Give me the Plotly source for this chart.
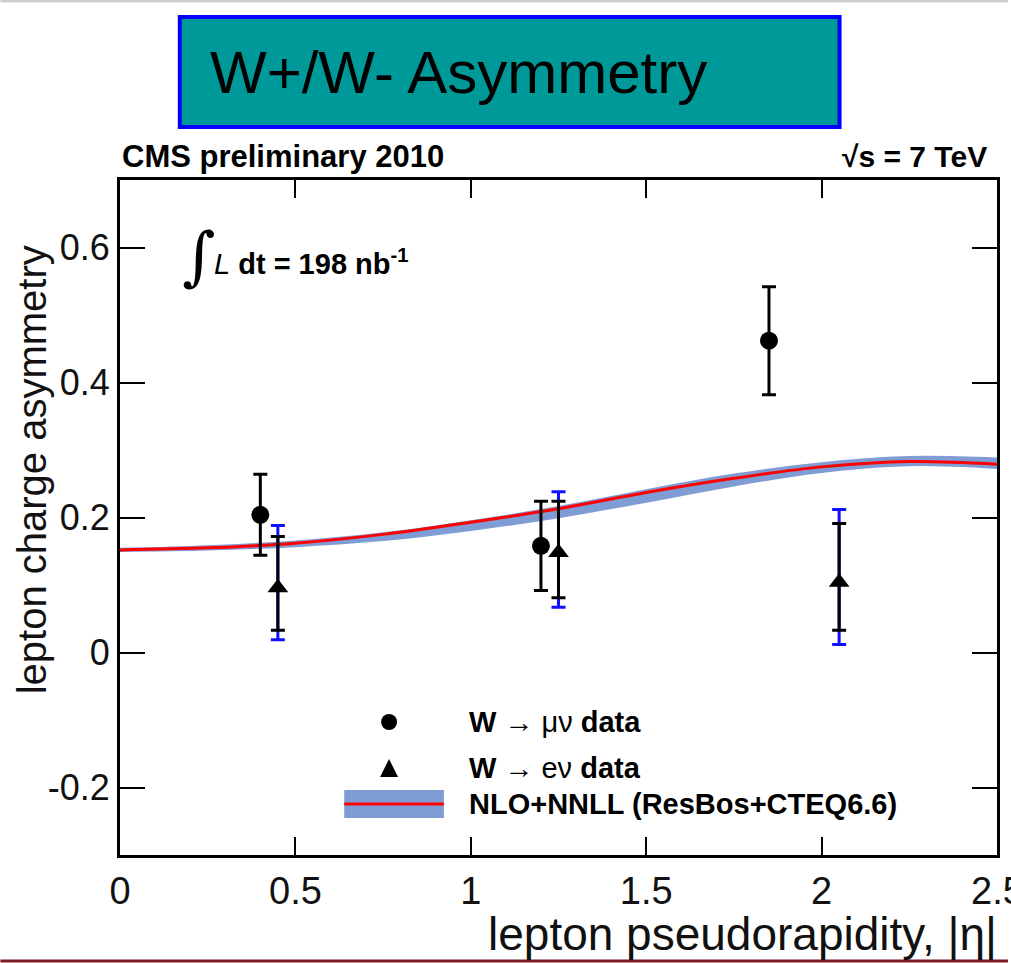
import plotly.graph_objects as go

# ---------------- data ----------------
mu_eta = [0.40, 1.20, 1.85]
mu_asym = [0.204, 0.158, 0.462]
mu_err_up = [0.060, 0.066, 0.080]
mu_err_dn = [0.060, 0.066, 0.080]

e_eta = [0.45, 1.25, 2.05]
e_asym = [0.096, 0.148, 0.104]
e_stat_up = [0.076, 0.076, 0.087]
e_stat_dn = [0.063, 0.067, 0.071]
e_tot_up = [0.092, 0.090, 0.108]
e_tot_dn = [0.077, 0.081, 0.092]

th_eta = [0.0, 0.25, 0.5, 0.75, 1.0, 1.25, 1.5, 1.75, 2.0, 2.25, 2.5]
th_asym = [0.152, 0.155, 0.162, 0.175, 0.193, 0.213, 0.237, 0.258, 0.275, 0.283, 0.279]
th_lo = [0.149, 0.151, 0.156, 0.165, 0.180, 0.199, 0.222, 0.246, 0.266, 0.276, 0.272]
th_hi = [0.155, 0.159, 0.166, 0.178, 0.196, 0.217, 0.242, 0.265, 0.282, 0.291, 0.289]

x_ticks = [0, 0.5, 1, 1.5, 2, 2.5]
x_tick_text = ["0", "0.5", "1", "1.5", "2", "2.5"]
y_ticks = [-0.2, 0, 0.2, 0.4, 0.6]
y_tick_text = ["-0.2", "0", "0.2", "0.4", "0.6"]

# ---------------- layout geometry ----------------
W, H = 1011, 963
ML, MR, MT, MB = 120, 11, 180, 108
PW, PH = W - ML - MR, H - MT - MB


def px(x):
    return (x - ML) / PW


def py(y):
    return (H - MB - y) / PH


FONT = "Liberation Sans, Arial, sans-serif"
BAND = "#7f9cd4"

fig = go.Figure()

# theory band
fig.add_trace(go.Scatter(x=th_eta, y=th_lo, mode="lines", line=dict(width=0, shape="spline"),
                         hoverinfo="skip", showlegend=False))
fig.add_trace(go.Scatter(x=th_eta, y=th_hi, mode="lines", line=dict(width=0, shape="spline"),
                         fill="tonexty", fillcolor=BAND, hoverinfo="skip", showlegend=False))
fig.add_trace(go.Scatter(x=th_eta, y=th_asym, mode="lines",
                         line=dict(color="#ff0000", width=3, shape="spline"), showlegend=False))

# electron total errors (blue)
fig.add_trace(go.Scatter(x=e_eta, y=e_asym, mode="markers", marker=dict(size=1, color="rgba(0,0,0,0)"),
                         error_y=dict(type="data", symmetric=False, array=e_tot_up, arrayminus=e_tot_dn,
                                      color="#1010ff", thickness=3, width=7),
                         showlegend=False))
# electron stat errors (black)
fig.add_trace(go.Scatter(x=e_eta, y=e_asym, mode="markers",
                         marker=dict(symbol="triangle-up", size=18, color="black"),
                         error_y=dict(type="data", symmetric=False, array=e_stat_up, arrayminus=e_stat_dn,
                                      color="black", thickness=3, width=7),
                         showlegend=False))
# muon
fig.add_trace(go.Scatter(x=mu_eta, y=mu_asym, mode="markers",
                         marker=dict(symbol="circle", size=18, color="black"),
                         error_y=dict(type="data", symmetric=False, array=mu_err_up, arrayminus=mu_err_dn,
                                      color="black", thickness=3, width=7),
                         showlegend=False))

shapes = []
annotations = []

# title box
shapes.append(dict(type="rect", xref="paper", yref="paper",
                   x0=px(180), x1=px(842), y0=py(127), y1=py(17),
                   fillcolor="#009999", line=dict(color="#0000ff", width=4), layer="above"))
annotations.append(dict(xref="paper", yref="paper", x=px(208), y=py(72), xanchor="left", yanchor="middle",
                        text="W+/W- Asymmetry", showarrow=False,
                        font=dict(family=FONT, size=60, color="black")))

# slide decoration lines
shapes.append(dict(type="line", xref="paper", yref="paper", x0=px(0), x1=px(W), y0=py(1), y1=py(1),
                   line=dict(color="#cfcfcf", width=3)))
shapes.append(dict(type="line", xref="paper", yref="paper", x0=px(0), x1=px(W), y0=py(961), y1=py(961),
                   line=dict(color="#7a1a24", width=3)))

# CMS text
annotations.append(dict(xref="paper", yref="paper", x=px(120), y=py(157), xanchor="left", yanchor="middle",
                        text="<b>CMS preliminary 2010</b>", showarrow=False,
                        font=dict(family=FONT, size=31, color="black")))
annotations.append(dict(xref="paper", yref="paper", x=px(992), y=py(157), xanchor="right", yanchor="middle",
                        text="<b>\u221As = 7 TeV</b>", showarrow=False,
                        font=dict(family=FONT, size=30, color="black")))

# integrated luminosity
annotations.append(dict(xref="paper", yref="paper", x=px(180), y=py(256), xanchor="left", yanchor="middle",
                        text="\u222b", showarrow=False,
                        font=dict(family="DejaVu Serif, serif", size=64, color="black")))
annotations.append(dict(xref="paper", yref="paper", x=px(212), y=py(262), xanchor="left", yanchor="middle",
                        text="<i>L</i> <b>dt = 198 nb<sup>-1</sup></b>", showarrow=False,
                        font=dict(family=FONT, size=29, color="black")))

# legend (manual)
shapes.append(dict(type="circle", xref="paper", yref="paper",
                   x0=px(382), x1=px(398), y0=py(730), y1=py(714), fillcolor="black", line=dict(width=0)))
shapes.append(dict(type="path", xref="paper", yref="paper",
                   path="M %f %f L %f %f L %f %f Z" % (px(381), py(777), px(399), py(777), px(390), py(759)),
                   fillcolor="black", line=dict(width=0)))
shapes.append(dict(type="rect", xref="paper", yref="paper",
                   x0=px(345), x1=px(445), y0=py(818), y1=py(790), fillcolor=BAND, line=dict(width=0)))
shapes.append(dict(type="line", xref="paper", yref="paper",
                   x0=px(345), x1=px(445), y0=py(804), y1=py(804), line=dict(color="#ff0000", width=3)))
leg_texts = ["<b>W</b> \u2192 \u03bc\u03bd <b>data</b>", "<b>W</b> \u2192 e\u03bd <b>data</b>",
             "<b>NLO+NNLL (ResBos+CTEQ6.6)</b>"]
for t, yy in zip(leg_texts, [722, 768, 804]):
    annotations.append(dict(xref="paper", yref="paper", x=px(468), y=py(yy), xanchor="left", yanchor="middle",
                            text=t, showarrow=False, font=dict(family=FONT, size=29, color="black")))

# last x tick label, cut by the right edge as in the reference
annotations.append(dict(xref="paper", yref="paper", x=1, y=py(891), xanchor="center", yanchor="middle",
                        text=x_tick_text[-1], showarrow=False,
                        font=dict(family=FONT, size=38, color="#111111")))

# axis titles
annotations.append(dict(xref="paper", yref="paper", x=px(1002), y=py(934), xanchor="right", yanchor="middle",
                        text="lepton pseudorapidity, |\u03b7|", showarrow=False,
                        font=dict(family=FONT, size=46, color="#111111")))
annotations.append(dict(xref="paper", yref="paper", x=px(32), y=py(470), xanchor="center", yanchor="middle",
                        text="lepton charge asymmetry", textangle=-90, showarrow=False,
                        font=dict(family=FONT, size=40, color="#111111")))

fig.update_layout(
    width=W, height=H,
    margin=dict(l=ML, r=MR, t=MT, b=MB),
    paper_bgcolor="white", plot_bgcolor="white",
    shapes=shapes, annotations=annotations,
    showlegend=False,
    xaxis=dict(range=[0, 2.5], tickvals=x_ticks[:-1], ticktext=x_tick_text[:-1], showgrid=False,
               zeroline=False, showline=True, linecolor="black", linewidth=3, mirror="ticks",
               ticks="inside", ticklen=18, tickwidth=2, tickcolor="black",
               tickfont=dict(family=FONT, size=38, color="#111111")),
    yaxis=dict(range=[-0.3, 0.7], tickvals=y_ticks, ticktext=y_tick_text, showgrid=False, zeroline=False,
               showline=True, linecolor="black", linewidth=3, mirror="ticks", ticks="inside", ticklen=25,
               tickwidth=2, tickcolor="black", tickfont=dict(family=FONT, size=36, color="#111111")),
)

fig.write_html("out.html")
